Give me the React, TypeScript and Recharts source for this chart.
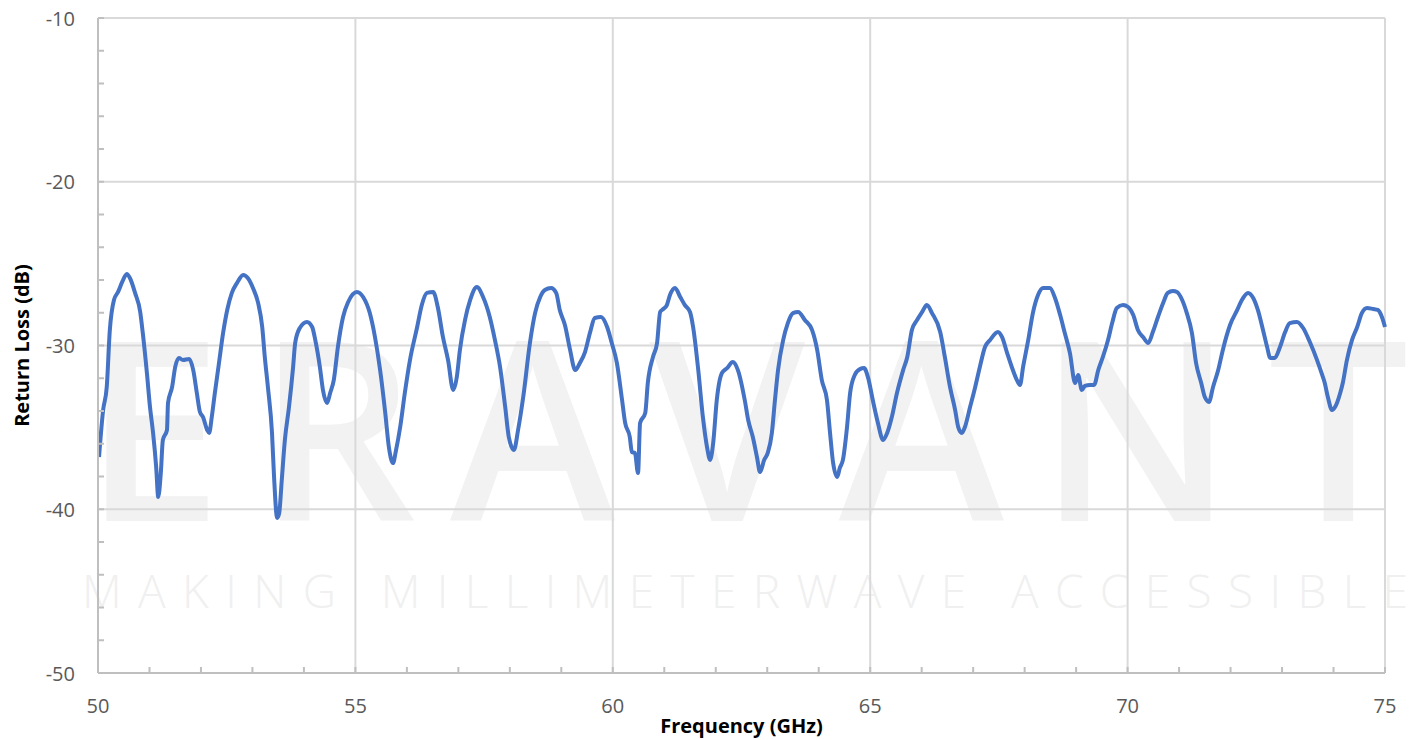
import React from "react";
import { LineChart, Line, XAxis, YAxis, CartesianGrid } from "recharts";

// frequency points (GHz)
const freqGHz = [
  50.02, 50.1, 50.17, 50.23, 50.31, 50.39, 50.47, 50.56, 50.62, 50.72,
  50.82, 50.87, 50.95, 51.01, 51.07, 51.13, 51.17, 51.22, 51.26, 51.34,
  51.36, 51.44, 51.5, 51.57, 51.65, 51.77, 51.85, 51.92, 51.98, 52.04,
  52.12, 52.16, 52.21, 52.27, 52.35, 52.43, 52.51, 52.6, 52.7, 52.82,
  52.91, 53.01, 53.11, 53.19, 53.24, 53.3, 53.38, 53.42, 53.48, 53.52,
  53.57, 53.63, 53.71, 53.79, 53.83, 53.92, 54.06, 54.16, 54.22, 54.31,
  54.37, 54.45, 54.51, 54.58, 54.66, 54.76, 54.86, 55.03, 55.15, 55.28,
  55.38, 55.48, 55.58, 55.65, 55.73, 55.79, 55.87, 55.96, 56.06, 56.2,
  56.29, 56.39, 56.51, 56.6, 56.7, 56.8, 56.9, 56.97, 57.03, 57.13,
  57.23, 57.36, 57.48, 57.61, 57.71, 57.81, 57.91, 57.98, 58.08, 58.16,
  58.26, 58.39, 58.49, 58.59, 58.68, 58.8, 58.9, 58.97, 59.07, 59.17,
  59.27, 59.36, 59.46, 59.56, 59.65, 59.77, 59.89, 59.98, 60.08, 60.18,
  60.24, 60.33, 60.37, 60.43, 60.49, 60.53, 60.63, 60.68, 60.78, 60.86,
  60.92, 60.98, 61.05, 61.11, 61.21, 61.31, 61.4, 61.5, 61.56, 61.66,
  61.75, 61.83, 61.89, 61.95, 62.02, 62.12, 62.22, 62.33, 62.43, 62.57,
  62.63, 62.72, 62.8, 62.86, 62.94, 63.01, 63.09, 63.15, 63.21, 63.31,
  63.4, 63.5, 63.6, 63.73, 63.87, 63.97, 64.06, 64.16, 64.22, 64.28,
  64.36, 64.41, 64.47, 64.55, 64.61, 64.7, 64.8, 64.88, 64.96, 65.05,
  65.15, 65.25, 65.33, 65.42, 65.52, 65.64, 65.72, 65.81, 65.91, 66.01,
  66.1, 66.2, 66.36, 66.45, 66.55, 66.65, 66.71, 66.78, 66.84, 66.94,
  67.04, 67.13, 67.23, 67.33, 67.48, 67.56, 67.66, 67.75, 67.85, 67.91,
  67.97, 68.07, 68.16, 68.26, 68.36, 68.49, 68.59, 68.69, 68.78, 68.88,
  68.98, 69.04, 69.11, 69.17, 69.27, 69.35, 69.43, 69.52, 69.62, 69.7,
  69.79, 69.91, 70.01, 70.11, 70.2, 70.3, 70.4, 70.49, 70.59, 70.69,
  70.78, 70.88, 70.96, 71.06, 71.15, 71.25, 71.33, 71.43, 71.5, 71.58,
  71.66, 71.76, 71.85, 71.99, 72.13, 72.22, 72.34, 72.44, 72.53, 72.63,
  72.71, 72.77, 72.86, 72.96, 73.06, 73.15, 73.29, 73.41, 73.54, 73.68,
  73.78, 73.83, 73.89, 73.97, 74.03, 74.13, 74.18, 74.26, 74.36, 74.46,
  74.55, 74.65, 74.77, 74.86, 74.94, 75.0,
];

// return loss (dB) at each point
const returnLossDb = [
  -36.81, -33.94, -32.53, -29.05, -27.22, -26.73, -26.12, -25.63, -25.88, -26.79,
  -27.95, -29.24, -31.68, -33.76, -35.34, -37.42, -39.25, -37.79, -35.77, -35.16,
  -33.51, -32.53, -31.31, -30.76, -30.89, -30.82, -31.5, -32.9, -34.06, -34.37,
  -35.16, -35.34, -34.37, -32.9, -31.07, -29.24, -27.83, -26.79, -26.18, -25.69,
  -25.88, -26.49, -27.4, -28.87, -30.7, -32.53, -35.34, -38.03, -40.53, -40.23,
  -38.21, -35.77, -33.76, -31.31, -29.85, -28.93, -28.56, -28.87, -29.66, -31.31,
  -32.72, -33.51, -32.9, -32.11, -30.09, -28.26, -27.34, -26.73, -27.04, -28.02,
  -29.48, -31.5, -34.12, -36.2, -37.18, -36.38, -34.98, -32.9, -30.89, -28.87,
  -27.53, -26.79, -26.73, -27.65, -29.48, -30.89, -32.72, -31.92, -30.27, -28.44,
  -27.22, -26.43, -27.04, -28.26, -29.66, -31.31, -33.76, -35.59, -36.38, -35.16,
  -33.15, -29.85, -28.02, -27.04, -26.61, -26.49, -26.79, -27.83, -28.75, -30.27,
  -31.5, -31.07, -30.4, -29.18, -28.32, -28.26, -28.87, -29.85, -31.07, -33.33,
  -34.73, -35.59, -36.5, -36.56, -37.79, -34.73, -34.12, -32.29, -30.7, -29.85,
  -27.95, -27.77, -27.53, -26.92, -26.49, -27.04, -27.53, -27.95, -28.87, -31.5,
  -34.37, -36.2, -36.99, -35.95, -33.33, -31.68, -31.38, -31.01, -31.5, -33.45,
  -34.55, -35.59, -36.81, -37.73, -36.99, -36.56, -35.34, -33.33, -31.5, -29.66,
  -28.63, -28.02, -27.95, -28.44, -29.05, -30.27, -32.11, -33.33, -35.34, -37.18,
  -38.03, -37.48, -36.99, -34.98, -32.9, -31.8, -31.44, -31.38, -31.98, -33.33,
  -34.73, -35.77, -35.34, -34.37, -32.9, -31.5, -30.7, -29.05, -28.44, -27.95,
  -27.53, -28.02, -29.18, -30.7, -32.53, -33.94, -34.98, -35.34, -34.98, -33.76,
  -32.53, -31.31, -30.09, -29.66, -29.18, -29.48, -30.46, -31.31, -32.11, -32.41,
  -31.31, -29.66, -28.02, -26.92, -26.49, -26.49, -27.1, -28.14, -29.24, -30.46,
  -32.29, -31.8, -32.72, -32.47, -32.41, -32.41, -31.5, -30.7, -29.66, -28.63,
  -27.71, -27.53, -27.65, -28.14, -29.05, -29.48, -29.85, -29.18, -28.26, -27.4,
  -26.79, -26.67, -26.73, -27.22, -28.02, -29.24, -31.07, -32.29, -33.15, -33.45,
  -32.53, -31.5, -30.27, -28.75, -27.83, -27.22, -26.79, -27.1, -27.83, -29.05,
  -30.09, -30.76, -30.76, -30.09, -29.18, -28.63, -28.56, -28.93, -29.79, -30.89,
  -31.8, -32.29, -33.15, -33.94, -33.76, -32.9, -32.29, -30.89, -29.66, -28.87,
  -28.02, -27.71, -27.77, -27.83, -28.26, -28.87,
];

const xMinorTicks = [
  50, 51, 52, 53, 54, 55, 56, 57, 58, 59, 60, 61, 62, 63, 64, 65, 66, 67, 68,
  69, 70, 71, 72, 73, 74, 75,
];
const xMajorTicks = [50, 55, 60, 65, 70, 75];
const yMinorTicks = [
  -50, -48, -46, -44, -42, -40, -38, -36, -34, -32, -30, -28, -26, -24, -22,
  -20, -18, -16, -14, -12, -10,
];
const yMajorTicks = [-50, -40, -30, -20, -10];

const FONT = "'Open Sans', 'Liberation Sans', sans-serif";
const TICK_GREY = "#595959";
const AXIS_GREY = "#bfbfbf";

const XTick = (props: any) => {
  const { x, y, payload } = props;
  const major = xMajorTicks.includes(payload.value);
  return (
    <g>
      <line x1={x} y1={y} x2={x} y2={y - 6} stroke={AXIS_GREY} strokeWidth={2} />
      {major && (
        <text
          x={x}
          y={y + 32}
          textAnchor="middle"
          dominantBaseline="central"
          fill={TICK_GREY}
          fontSize={20}
          fontFamily={FONT}
        >
          {payload.value}
        </text>
      )}
    </g>
  );
};

const YTick = (props: any) => {
  const { x, y, payload } = props;
  const major = yMajorTicks.includes(payload.value);
  return (
    <g>
      <line x1={x} y1={y} x2={x + 6} y2={y} stroke={AXIS_GREY} strokeWidth={2} />
      {major && (
        <text
          x={x - 23}
          y={y}
          textAnchor="end"
          dominantBaseline="central"
          fill={TICK_GREY}
          fontSize={20}
          fontFamily={FONT}
        >
          {payload.value}
        </text>
      )}
    </g>
  );
};

export default function App() {
  const data = freqGHz.map((f, i) => ({ f, rl: returnLossDb[i] }));

  return (
    <div
      style={{
        position: "absolute",
        left: 0,
        top: 0,
        width: 1413,
        height: 740,
        background: "#fff",
        fontFamily: FONT,
      }}
    >
      {/* watermark behind the chart */}
      <svg
        width={1413}
        height={740}
        style={{ position: "absolute", left: 0, top: 0 }}
      >
        <text
          x={83}
          y={521}
          fontSize={250}
          fontFamily={FONT}
          fontWeight={600}
          fill="#f2f2f2"
          textLength={1326}
          lengthAdjust="spacing"
        >
          ERAVANT
        </text>
        <text
          x={82}
          y={608}
          fontSize={46}
          fontFamily={FONT}
          fontWeight={300}
          fill="#f0f0f0"
          textLength={1326}
          lengthAdjust="spacing"
        >
          MAKING MILLIMETERWAVE ACCESSIBLE
        </text>
      </svg>

      <div style={{ position: "absolute", left: 0, top: 0 }}>
        <LineChart
          width={1413}
          height={740}
          data={data}
          margin={{ top: 18, right: 28, left: 0, bottom: 0 }}
        >
          <CartesianGrid
            stroke="#d9d9d9"
            strokeWidth={2}
            horizontalValues={yMajorTicks}
            verticalValues={xMajorTicks}
          />
          <XAxis
            dataKey="f"
            type="number"
            domain={[50, 75]}
            ticks={xMinorTicks}
            interval={0}
            height={67}
            tickSize={0}
            tickMargin={0}
            tickLine={false}
            axisLine={{ stroke: AXIS_GREY, strokeWidth: 2 }}
            tick={<XTick />}
            label={{
              value: "Frequency (GHz)",
              position: "insideBottom",
              offset: 7,
              fill: "#000",
              fontSize: 20,
              fontWeight: 700,
              fontFamily: FONT,
            }}
          />
          <YAxis
            type="number"
            domain={[-50, -10]}
            ticks={yMinorTicks}
            interval={0}
            width={98}
            tickSize={0}
            tickMargin={0}
            tickLine={false}
            axisLine={{ stroke: AXIS_GREY, strokeWidth: 2 }}
            tick={<YTick />}
            label={{
              value: "Return Loss (dB)",
              angle: -90,
              position: "insideLeft",
              offset: 22,
              fill: "#000",
              fontSize: 20,
              fontWeight: 700,
              fontFamily: FONT,
              style: { textAnchor: "middle" },
            }}
          />
          <Line
            type="monotone"
            dataKey="rl"
            stroke="#4472c4"
            strokeWidth={4}
            dot={false}
            isAnimationActive={false}
          />
        </LineChart>
      </div>
    </div>
  );
}
